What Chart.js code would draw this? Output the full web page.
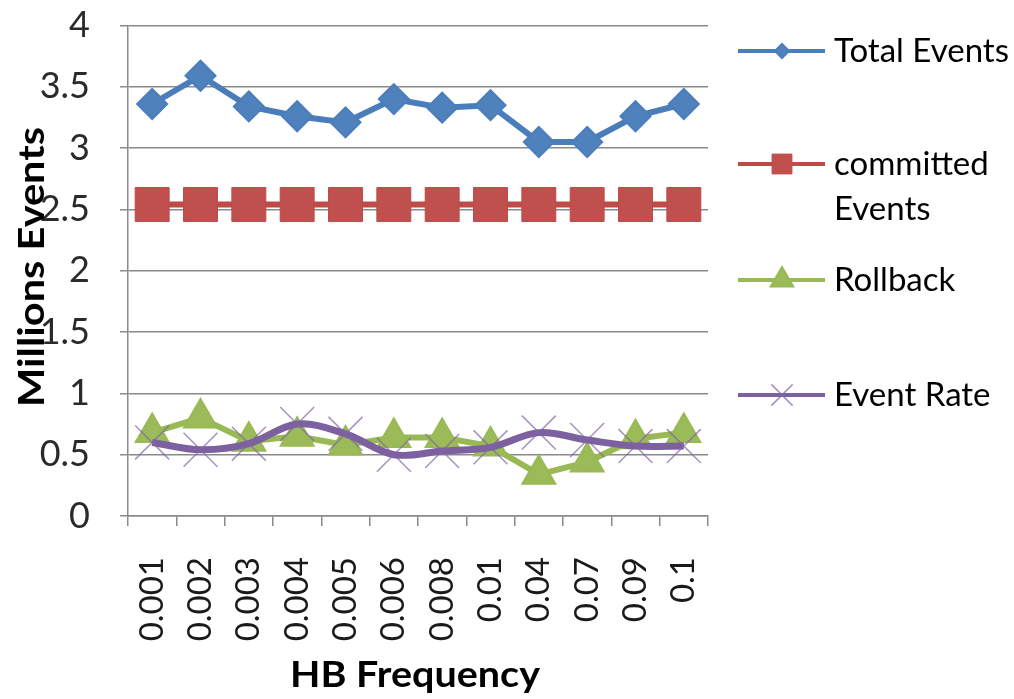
<!DOCTYPE html>
<html>
<head>
<meta charset="utf-8">
<title>HB Frequency</title>
<script src="https://cdn.jsdelivr.net/npm/chart.js@4/dist/chart.umd.min.js"></script>
<style>
  html, body { margin: 0; padding: 0; background: #ffffff; }
  #wrap { width: 1014px; height: 699px; }
</style>
</head>
<body>
<div id="wrap"><canvas id="chart" width="1014" height="699"></canvas></div>
<script>
// Heartbeat frequency settings on the category axis
const categories = ['0.001', '0.002', '0.003', '0.004', '0.005', '0.006', '0.008', '0.01', '0.04', '0.07', '0.09', '0.1'];

// Series values, in millions of events
const totalEvents     = [3.36, 3.59, 3.34, 3.26, 3.21, 3.40, 3.33, 3.35, 3.05, 3.05, 3.26, 3.36];
const committedEvents = [2.54, 2.54, 2.54, 2.54, 2.54, 2.54, 2.54, 2.54, 2.54, 2.54, 2.54, 2.54];
const rollback        = [0.68, 0.80, 0.61, 0.65, 0.58, 0.64, 0.64, 0.57, 0.34, 0.44, 0.63, 0.68];
const eventRate       = [0.60, 0.54, 0.59, 0.75, 0.67, 0.50, 0.53, 0.56, 0.68, 0.62, 0.57, 0.57];

// Value axis
const yMin = 0;
const yMax = 4;
const yStep = 0.5;

const seriesNames = ['Total Events', 'committed Events', 'Rollback', 'Event Rate'];

const FONT = 'Lato, "Open Sans", "DejaVu Sans", sans-serif';
const GRID = '#8a8a8a';

// Axis titles drawn by hand so the value-axis title can sit over the tick labels
const axisTitles = {
  id: 'axisTitles',
  afterDraw(chart) {
    const ctx = chart.ctx;
    const area = chart.chartArea;
    ctx.save();
    ctx.fillStyle = '#000';
    ctx.font = 'bold 37px ' + FONT;
    ctx.textAlign = 'center';
    ctx.textBaseline = 'alphabetic';
    // category axis title
    const xt = 'HB Frequency';
    const xw = ctx.measureText(xt).width;
    ctx.save();
    ctx.translate((area.left + area.right) / 2 - 3, 687);
    ctx.scale(250 / xw, 1);
    ctx.fillText(xt, 0, 0);
    ctx.restore();
    // value axis title
    const yt = 'Millions Events';
    const yw = ctx.measureText(yt).width;
    ctx.save();
    ctx.translate(44, 267);
    ctx.rotate(-Math.PI / 2);
    ctx.scale(280 / yw, 1);
    ctx.fillText(yt, 0, 0);
    ctx.restore();
    ctx.restore();
  }
};

// Legend on the right-hand side, built from the datasets' own styles
const sideLegend = {
  id: 'sideLegend',
  afterDraw(chart) {
    const ctx = chart.ctx;
    const rows = [
      { lines: ['Total Events'], y: 51, r: 7 },
      { lines: ['committed', 'Events'], y: 164, r: 14 },
      { lines: ['Rollback'], y: 280, r: 13 },
      { lines: ['Event Rate'], y: 395, r: 15 }
    ];
    const x0 = 738, x1 = 825, xm = 782, xt = 834;
    ctx.save();
    chart.data.datasets.forEach((ds, i) => {
      const row = rows[i];
      ctx.strokeStyle = ds.borderColor;
      ctx.lineWidth = 4;
      ctx.lineCap = 'butt';
      ctx.beginPath();
      ctx.moveTo(x0, row.y);
      ctx.lineTo(x1, row.y);
      ctx.stroke();
      ctx.fillStyle = ds.pointBackgroundColor;
      ctx.strokeStyle = ds.pointBorderColor;
      ctx.lineWidth = ds.pointBorderWidth;
      Chart.helpers.drawPoint(ctx, {
        pointStyle: ds.pointStyle,
        radius: row.r,
        rotation: 0,
        borderWidth: ds.pointBorderWidth
      }, xm, row.y);
      ctx.fillStyle = '#000';
      ctx.font = '33px ' + FONT;
      ctx.textAlign = 'left';
      ctx.textBaseline = 'alphabetic';
      row.lines.forEach((t, k) => {
        ctx.fillText(t, xt, row.y + 11 + k * 45);
      });
    });
    ctx.restore();
  }
};

function build() {
  const ctx = document.getElementById('chart').getContext('2d');
  new Chart(ctx, {
    type: 'line',
    data: {
      labels: categories,
      datasets: [
        {
          label: seriesNames[0],
          data: totalEvents,
          borderColor: '#4A7EBB',
          borderWidth: 6,
          pointStyle: 'rectRot',
          pointRadius: 15,
          pointBackgroundColor: '#4F81BD',
          pointBorderColor: '#4A7EBB',
          pointBorderWidth: 2,
          tension: 0,
          order: 3
        },
        {
          label: seriesNames[1],
          data: committedEvents,
          borderColor: '#BE4B48',
          borderWidth: 6,
          pointStyle: 'rect',
          pointRadius: 24,
          pointBackgroundColor: '#C0504D',
          pointBorderColor: '#BE4B48',
          pointBorderWidth: 1,
          tension: 0,
          order: 2
        },
        {
          label: seriesNames[2],
          data: rollback,
          borderColor: '#98B954',
          borderWidth: 6,
          pointStyle: 'triangle',
          pointRadius: 19,
          pointBackgroundColor: '#9BBB59',
          pointBorderColor: '#98B954',
          pointBorderWidth: 2,
          tension: 0,
          order: 1
        },
        {
          label: seriesNames[3],
          data: eventRate,
          borderColor: '#7D60A0',
          borderWidth: 7,
          pointStyle: 'crossRot',
          pointRadius: 24,
          pointBackgroundColor: 'rgba(128,100,162,0.7)',
          pointBorderColor: 'rgba(128,100,162,0.7)',
          pointBorderWidth: 1.5,
          tension: 0.35,
          order: 0
        }
      ]
    },
    options: {
      responsive: false,
      animation: false,
      devicePixelRatio: 1,
      clip: false,
      layout: { padding: { left: 0, right: 306, top: 0, bottom: 0 } },
      plugins: {
        legend: { display: false },
        tooltip: { enabled: false },
        title: { display: false }
      },
      scales: {
        x: {
          type: 'category',
          offset: true,
          afterFit(scale) { scale.height = 183; },
          grid: {
            display: true,
            offset: true,
            drawOnChartArea: false,
            drawTicks: true,
            tickLength: 10,
            color: GRID,
            lineWidth: 1.5
          },
          border: { display: true, color: GRID, width: 1.5 },
          ticks: {
            autoSkip: false,
            maxRotation: 90,
            minRotation: 90,
            padding: 31,
            color: '#1a1a1a',
            font: { family: FONT, size: 33 }
          },
          title: { display: false }
        },
        y: {
          min: yMin,
          max: yMax,
          afterFit(scale) {
            scale.width = 128;
            scale.paddingTop = 24;
            scale.paddingBottom = 20;
          },
          grid: {
            display: true,
            drawOnChartArea: true,
            drawTicks: true,
            tickLength: 8,
            color: GRID,
            lineWidth: 1.5
          },
          border: { display: true, color: GRID, width: 1.5 },
          ticks: {
            stepSize: yStep,
            padding: 30,
            color: '#2a2a2a',
            font: { family: FONT, size: 36 },
            callback: (v) => String(Number(Number(v).toFixed(2)))
          },
          title: { display: false }
        }
      }
    },
    plugins: [axisTitles, sideLegend]
  });
}

if (document.fonts && document.fonts.load) {
  Promise.all([
    document.fonts.load('36px Lato'),
    document.fonts.load('bold 37px Lato')
  ]).then(build, build);
} else {
  build();
}
</script>
</body>
</html>
